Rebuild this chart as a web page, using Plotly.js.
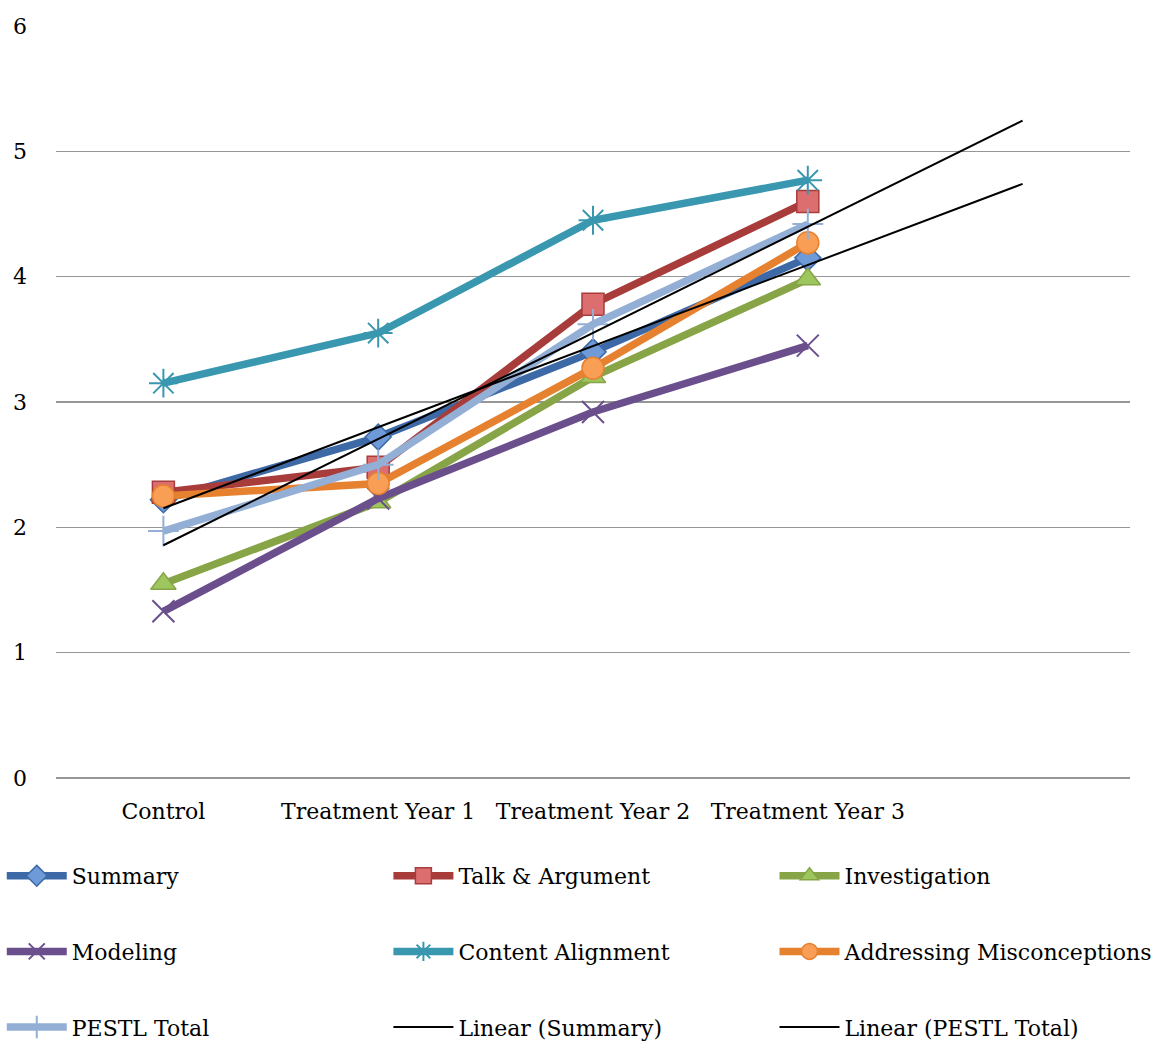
<!DOCTYPE html>
<html>
<head>
<meta charset="utf-8">
<script src="https://cdn.plot.ly/plotly-3.0.1.min.js"></script>
<style>html,body{margin:0;padding:0;background:#fff;}#chart{width:1160px;height:1042px;}</style>
</head>
<body>
<div id="chart"></div>
<script>
var categories = ["Control", "Treatment Year 1", "Treatment Year 2", "Treatment Year 3"];
var summary = [2.22, 2.72, 3.40, 4.15];
var talkArgument = [2.28, 2.48, 3.78, 4.60];
var investigation = [1.55, 2.20, 3.20, 3.98];
var modeling = [1.33, 2.23, 2.92, 3.45];
var contentAlignment = [3.15, 3.55, 4.45, 4.77];
var addressingMisconceptions = [2.25, 2.35, 3.27, 4.27];
var pestlTotal = [1.97, 2.50, 3.62, 4.42];
var yTicks = [0, 1, 2, 3, 4, 5, 6];

var xIdx = categories.map(function(_, i){ return i; });

function linearFit(ys) {
  var n = ys.length, mx = 0, my = 0;
  for (var i = 0; i < n; i++) { mx += i; my += ys[i]; }
  mx /= n; my /= n;
  var sxy = 0, sxx = 0;
  for (var j = 0; j < n; j++) { sxy += (j - mx) * (ys[j] - my); sxx += (j - mx) * (j - mx); }
  var b = sxy / sxx, a = my - b * mx;
  return { x: [0, n], y: [a, a + b * n] };
}

var FONT = "DejaVu Serif, Liberation Serif, serif";

function series(name, ys, lineColor, markerColor, symbol, legend, msize) {
  return {
    type: "scatter", mode: "lines+markers", name: name, x: xIdx, y: ys,
    legendgroup: name,
    line: { color: lineColor, width: 7.5 },
    marker: { symbol: symbol, size: msize, color: markerColor,
              line: { color: lineColor, width: 1.5 } },
    legend: legend
  };
}

var traces = [
  series("Summary", summary, "#3D6AA6", "#6F9AD8", "diamond", "legend", 20),
  series("Talk &amp; Argument", talkArgument, "#A83C3B", "#DC6E70", "square", "legend2", 22),
  series("Investigation", investigation, "#87A547", "#9DC65E", "triangle-up", "legend3", 22),
  series("Modeling", modeling, "#6B4F8D", "#6B4F8D", "x-thin", "legend", 22),
  series("Content Alignment", contentAlignment, "#3A97B0", "#3A97B0", "asterisk", "legend2", 24),
  series("Addressing Misconceptions", addressingMisconceptions, "#E5812F", "#F89E55", "circle", "legend3", 22),
  series("PESTL Total", pestlTotal, "#93AFD6", "#93AFD6", "cross-thin", "legend", 22)
];
traces[3].marker.line.width = 2;
traces[4].marker.line.width = 2;
traces[6].marker.line.width = 2;

var fitS = linearFit(summary);
var fitP = linearFit(pestlTotal);
traces.push({ type: "scatter", mode: "lines", name: "Linear (Summary)", legendgroup: "ls", x: fitS.x, y: fitS.y,
  line: { color: "#000000", width: 2 }, legend: "legend2" });
traces.push({ type: "scatter", mode: "lines", name: "Linear (PESTL Total)", legendgroup: "lp", x: fitP.x, y: fitP.y,
  line: { color: "#000000", width: 2 }, legend: "legend3" });

function legendCol(x) {
  return { orientation: "v", x: x, xanchor: "left", y: -0.1024, yanchor: "top",
    traceorder: "grouped", tracegroupgap: 44, itemwidth: 60,
    font: { family: FONT, size: 22, color: "#000" }, bgcolor: "rgba(0,0,0,0)" };
}

var layout = {
  width: 1160, height: 1042,
  margin: { l: 56, r: 30, t: 26, b: 264, autoexpand: false },
  paper_bgcolor: "#fff", plot_bgcolor: "#fff",
  font: { family: FONT, size: 22, color: "#000" },
  showlegend: true,
  xaxis: {
    range: [-0.5, 4.5], tickmode: "array", tickvals: xIdx, ticktext: categories,
    showgrid: false, zeroline: false, showline: false, ticks: "",
    ticklabelstandoff: 18, tickfont: { family: FONT, size: 22, color: "#000" }
  },
  yaxis: {
    range: [0, 6], tickmode: "array", tickvals: yTicks,
    showgrid: true, gridcolor: "#969696", gridwidth: 1.3,
    zeroline: true, zerolinecolor: "#969696", zerolinewidth: 1.3,
    showline: false, ticks: "", ticklabelstandoff: 28,
    tickfont: { family: FONT, size: 22, color: "#000" }
  },
  legend: legendCol(-0.0505),
  legend2: legendCol(0.3095),
  legend3: legendCol(0.669)
};

Plotly.newPlot("chart", traces, layout, { displayModeBar: false, staticPlot: true });
</script>
</body>
</html>
